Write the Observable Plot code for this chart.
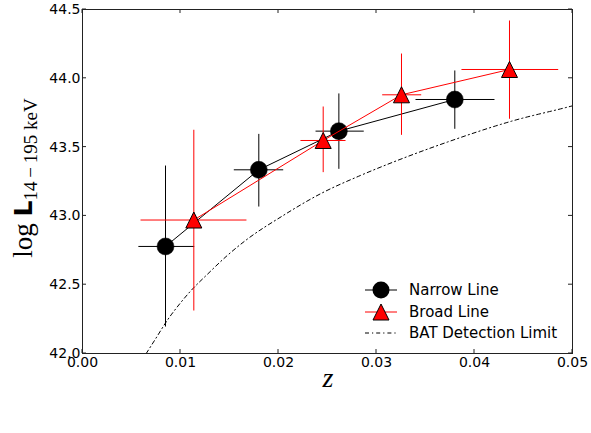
<!DOCTYPE html>
<html>
<head>
<meta charset="utf-8">
<script src="https://cdn.jsdelivr.net/npm/d3@7"></script>
<script src="https://cdn.jsdelivr.net/npm/@observablehq/plot@0.6"></script>
<style>
  html, body { margin: 0; padding: 0; background: #fff; }
  svg { display: block; }
</style>
</head>
<body>
<div id="chart"></div>
<script>
// Narrow-line AGN: redshift, luminosity and error ranges
const narrowZ   = [0.00847, 0.01799, 0.02616, 0.03799];
const narrowL   = [42.778, 43.335, 43.616, 43.846];
const narrowZLo = [0.0057, 0.01544, 0.02378, 0.03398];
const narrowZHi = [0.0114, 0.02048, 0.0287, 0.04204];
const narrowLLo = [42.196, 43.068, 43.342, 43.633];
const narrowLHi = [43.366, 43.596, 43.89, 44.057];

// Broad-line AGN
const broadZ   = [0.01136, 0.02456, 0.03255, 0.04357];
const broadL   = [42.97, 43.548, 43.88, 44.064];
const broadZLo = [0.00592, 0.02224, 0.03058, 0.03867];
const broadZHi = [0.01673, 0.02684, 0.03456, 0.04854];
const broadLLo = [42.3125, 43.318, 43.589, 43.706];
const broadLHi = [43.626, 43.795, 44.18, 44.42];

// BAT detection limit curve
const batZ = [0.0065, 0.00745, 0.00864, 0.0100, 0.01102, 0.01272, 0.01477, 0.01663, 0.02037, 0.02429, 0.02837, 0.0311, 0.03721, 0.04401, 0.04946, 0.05];
const batL = [42.0, 42.106, 42.24, 42.368, 42.453, 42.574, 42.712, 42.821, 42.998, 43.161, 43.294, 43.374, 43.536, 43.693, 43.79, 43.80];

// Axis ticks
const xTicks = [0, 0.01, 0.02, 0.03, 0.04, 0.05];
const yTicks = [42.0, 42.5, 43.0, 43.5, 44.0, 44.5];

const legendLabels = ["Narrow Line", "Broad Line", "BAT Detection Limit"];

const toRows = (z, L, zlo, zhi, llo, lhi) =>
  z.map((d, i) => ({z: d, L: L[i], zlo: zlo[i], zhi: zhi[i], llo: llo[i], lhi: lhi[i]}));
const narrow = toRows(narrowZ, narrowL, narrowZLo, narrowZHi, narrowLLo, narrowLHi);
const broad = toRows(broadZ, broadL, broadZLo, broadZHi, broadLLo, broadLHi);
const bat = batZ.map((z, i) => ({z, L: batL[i]}));

// Upward triangle whose box is centred on the point (width = height)
const triangleUp = {
  draw(ctx, size) {
    const r = Math.sqrt(size / Math.PI);
    ctx.moveTo(0, -r);
    ctx.lineTo(r, r);
    ctx.lineTo(-r, r);
    ctx.closePath();
  }
};

const RED = "#ff0000";
const batDash = "4,3,1.2,3";

const chart = Plot.plot({
  width: 591,
  height: 433,
  marginLeft: 82,
  marginRight: 19,
  marginTop: 9,
  marginBottom: 80,
  style: {fontFamily: "DejaVu Sans", fontSize: "14px", color: "black", background: "white", overflow: "visible"},
  x: {domain: [0, 0.05]},
  y: {domain: [42, 44.5]},
  marks: [
    Plot.axisX(xTicks, {tickSize: 0, tickPadding: 4, tickFormat: d => d.toFixed(2), label: null, fontSize: 14}),
    Plot.axisY(yTicks, {tickSize: 0, tickPadding: 2, tickFormat: d => d.toFixed(1), label: null, fontSize: 14}),
    Plot.line(bat, {x: "z", y: "L", stroke: "black", strokeWidth: 1, strokeDasharray: batDash, curve: "monotone-x", clip: true}),
    // narrow-line series
    Plot.link(narrow, {x1: "zlo", x2: "zhi", y1: "L", y2: "L", stroke: "black", strokeWidth: 1}),
    Plot.link(narrow, {x1: "z", x2: "z", y1: "llo", y2: "lhi", stroke: "black", strokeWidth: 1}),
    Plot.line(narrow, {x: "z", y: "L", stroke: "black", strokeWidth: 1}),
    Plot.dot(narrow, {x: "z", y: "L", r: 8.5, fill: "black", stroke: "black", strokeWidth: 0.5}),
    // broad-line series
    Plot.link(broad, {x1: "zlo", x2: "zhi", y1: "L", y2: "L", stroke: RED, strokeWidth: 1}),
    Plot.link(broad, {x1: "z", x2: "z", y1: "llo", y2: "lhi", stroke: RED, strokeWidth: 1}),
    Plot.line(broad, {x: "z", y: "L", stroke: RED, strokeWidth: 1}),
    Plot.dot(broad, {x: "z", y: "L", r: 8, symbol: triangleUp, fill: RED, stroke: "black", strokeWidth: 1}),
    Plot.frame({stroke: "#222", strokeWidth: 1})
  ]
});

document.getElementById("chart").appendChild(chart);

const svg = d3.select(chart);
const sx = chart.scale("x"), sy = chart.scale("y");
const [x0, x1] = [sx.apply(0), sx.apply(0.05)];
const [y0, y1] = [sy.apply(42), sy.apply(44.5)];
const TL = 4;

// inward ticks on all four sides
const ticks = svg.append("g").attr("stroke", "#222").attr("stroke-width", 1);
xTicks.forEach(t => {
  const px = sx.apply(t);
  ticks.append("line").attr("x1", px).attr("x2", px).attr("y1", y0).attr("y2", y0 - TL);
  ticks.append("line").attr("x1", px).attr("x2", px).attr("y1", y1).attr("y2", y1 + TL);
});
yTicks.forEach(t => {
  const py = sy.apply(t);
  ticks.append("line").attr("x1", x0).attr("x2", x0 + TL).attr("y1", py).attr("y2", py);
  ticks.append("line").attr("x1", x1).attr("x2", x1 - TL).attr("y1", py).attr("y2", py);
});

// axis titles
svg.append("text")
  .attr("x", (x0 + x1) / 2 + 1)
  .attr("y", 387)
  .attr("text-anchor", "middle")
  .attr("font-family", "Liberation Serif")
  .attr("font-style", "italic")
  .attr("font-size", 28)
  .attr("fill", "black")
  .text("z");

const yl = svg.append("text")
  .attr("transform", `translate(32,${(y0 + y1) / 2 - 3}) rotate(-90)`)
  .attr("text-anchor", "middle")
  .attr("fill", "black");
yl.append("tspan").attr("font-family", "Liberation Serif").attr("font-size", 27).text("log ");
yl.append("tspan").attr("font-family", "DejaVu Sans").attr("font-weight", "bold").attr("font-size", 25).text("L");
yl.append("tspan").attr("font-family", "Liberation Serif").attr("font-size", 19).attr("dy", 5).text("14\u2009\u2212\u2009195 keV");

// legend
const lg = svg.append("g").attr("text-anchor", "start");
const rows = [290, 312, 333];
const lx0 = 365, lx1 = 397, lmx = 381, ltx = 409;
lg.append("line").attr("x1", lx0).attr("x2", lx1).attr("y1", rows[0]).attr("y2", rows[0]).attr("stroke", "black");
lg.append("circle").attr("cx", lmx).attr("cy", rows[0]).attr("r", 8.5).attr("fill", "black");
lg.append("line").attr("x1", lx0).attr("x2", lx1).attr("y1", rows[1]).attr("y2", rows[1]).attr("stroke", RED);
lg.append("path").attr("transform", `translate(${lmx},${rows[1]})`)
  .attr("d", d3.symbol(triangleUp, Math.PI * 64)()).attr("fill", RED).attr("stroke", "black");
lg.append("line").attr("x1", lx0).attr("x2", lx1).attr("y1", rows[2]).attr("y2", rows[2])
  .attr("stroke", "black").attr("stroke-dasharray", batDash);
legendLabels.forEach((t, i) => {
  lg.append("text").attr("x", ltx).attr("y", rows[i]).attr("dy", "0.35em")
    .attr("text-anchor", "start")
    .attr("font-family", "DejaVu Sans").attr("font-size", 15).attr("fill", "black").text(t);
});
</script>
</body>
</html>
